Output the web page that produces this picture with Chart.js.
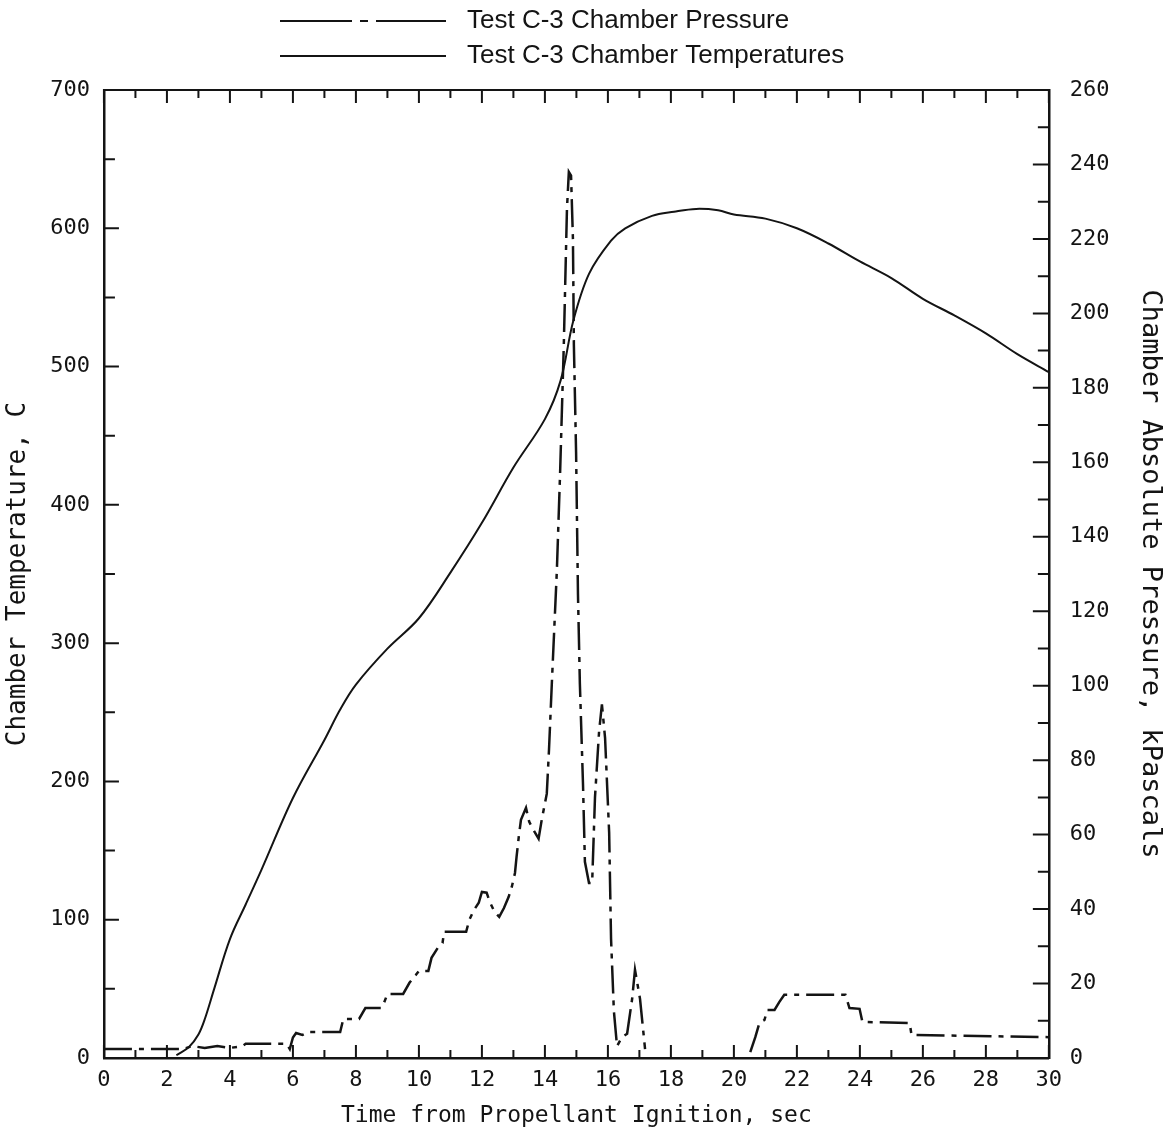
<!DOCTYPE html>
<html>
<head>
<meta charset="utf-8">
<script src="https://cdn.jsdelivr.net/npm/chart.js@4.4.1/dist/chart.umd.min.js"></script>
<style>
  html, body { margin: 0; padding: 0; background: #fff; }
  #wrap { width: 1170px; height: 1133px; }
</style>
</head>
<body>
<div id="wrap"><canvas id="chartCanvas" width="1170" height="1133"></canvas></div>
<script>
// Test C-3 chamber temperature (left axis) and chamber pressure (right axis)
const tempTime = [2.3, 2.7, 3.0, 3.2, 3.5, 4.0, 4.5, 5.0, 6.0, 7.0, 7.5, 8.0, 9.0, 10.0, 11.0, 12.0, 13.0,
  14.0, 14.5, 14.9, 15.4, 16.1, 16.55, 17.4, 18.1, 18.8, 19.5, 20.0, 21.0, 22.0, 23.0, 24.0, 25.0,
  26.0, 27.0, 28.0, 29.0, 30.0];
const tempValues = [2, 8, 17, 28, 50, 86, 111, 136, 188, 230, 252, 270, 296, 318, 351, 387, 427,
  462, 490, 533, 567, 591, 600, 609, 612, 614, 613, 610, 607, 600, 589, 576, 564,
  549, 537, 524, 509, 496];

const pressTime = [0, 0.9, 2.5, 2.8, 3.2, 3.6, 4.0, 4.4, 4.5, 5.8, 5.9, 6.0, 6.1, 6.3, 6.5, 7.5, 7.6,
  8.1, 8.3, 8.8, 8.9, 9.0, 9.5, 9.7, 9.9, 10.0, 10.3, 10.4, 10.6, 10.75, 10.8, 11.5, 11.6, 11.75,
  11.9, 12.0, 12.15, 12.25, 12.4, 12.55, 12.7, 12.85, 12.95, 13.05, 13.1, 13.17, 13.24, 13.4, 13.5,
  13.6, 13.8, 13.9, 14.06, 14.13, 14.22, 14.38, 14.48, 14.6, 14.7, 14.76, 14.83, 14.89, 14.92,
  14.99, 15.05, 15.11, 15.21, 15.27, 15.4, 15.5, 15.59, 15.72, 15.81, 15.91, 16.04, 16.1, 16.19,
  16.29, 16.45, 16.61, 16.77, 16.86, 17.02, 17.18, 18.8, 20.52, 20.68, 20.81, 20.97, 21.06, 21.29,
  21.44, 21.6, 23.54, 23.67, 23.99, 24.08, 25.58, 25.64, 30.0];
const pressValues = [2.4, 2.4, 2.4, 3.2, 2.7, 3.2, 2.7, 3.2, 3.8, 3.8, 2.4, 5.5, 6.7, 6.2, 7, 7, 10.5,
  10.5, 13.4, 13.4, 15, 17.2, 17.2, 20.2, 22.3, 23.4, 23.4, 26.9, 29.6, 30.9, 33.9, 33.9, 37.1, 39.8,
  41.7, 44.6, 44.4, 41.9, 39.3, 37.9, 40.3, 43.3, 46, 49.7, 54, 59.4, 64, 67.2, 63.5,
  61.8, 58.9, 64, 71, 82.8, 100.6, 131, 156.5, 191.5, 228, 238, 237, 220, 191.5,
  162.7, 124.5, 100.6, 73.4, 52.7, 47, 47, 70, 87.7, 95, 86, 60.5, 32, 12.6,
  3.2, 5.6, 6.5, 15.9, 23.7, 15.9, 2.4, null, 1.6, 5.6, 9.4, 10.2, 12.9, 12.9,
  15, 17, 17, 13.4, 13.2, 9.7, 9.4, 6.2, 5.6];

const xTickValues = [0, 2, 4, 6, 8, 10, 12, 14, 16, 18, 20, 22, 24, 26, 28, 30];
const tempTickValues = [0, 100, 200, 300, 400, 500, 600, 700];
const pressTickValues = [0, 20, 40, 60, 80, 100, 120, 140, 160, 180, 200, 220, 240, 260];

const ink = '#141414';
const monoFont = 'DejaVu Sans Mono';

// inward tick marks + top frame line
const tickMarks = {
  id: 'tickMarks',
  afterDraw(chart) {
    const { ctx, chartArea: a, scales } = chart;
    ctx.save();
    ctx.strokeStyle = ink;
    ctx.lineWidth = 2;
    ctx.beginPath();
    ctx.moveTo(a.left - 1, a.top);
    ctx.lineTo(a.right + 1, a.top);
    for (let v = 0; v <= 30; v += 1) {
      const x = scales.x.getPixelForValue(v);
      const len = v % 2 === 0 ? 13 : 8;
      ctx.moveTo(x, a.bottom); ctx.lineTo(x, a.bottom - len);
      ctx.moveTo(x, a.top); ctx.lineTo(x, a.top + len);
    }
    for (let v = 0; v <= 700; v += 50) {
      const y = scales.y.getPixelForValue(v);
      const len = v % 100 === 0 ? 15 : 11;
      ctx.moveTo(a.left, y); ctx.lineTo(a.left + len, y);
    }
    for (let v = 0; v <= 260; v += 10) {
      const y = scales.y1.getPixelForValue(v);
      const len = v % 20 === 0 ? 16 : 11;
      ctx.moveTo(a.right, y); ctx.lineTo(a.right - len, y);
    }
    ctx.stroke();
    ctx.restore();
  }
};

// two-row legend above the plot
const legendRows = {
  id: 'legendRows',
  afterDraw(chart) {
    const { ctx } = chart;
    const rows = [
      { ds: chart.data.datasets[0], y: 21, dash: [72, 8, 8, 8] },
      { ds: chart.data.datasets[1], y: 56, dash: [] }
    ];
    ctx.save();
    ctx.font = '26px "Liberation Sans", Arial, sans-serif';
    ctx.textBaseline = 'middle';
    ctx.fillStyle = ink;
    rows.forEach(r => {
      ctx.strokeStyle = ink;
      ctx.lineWidth = 2;
      ctx.setLineDash(r.dash);
      ctx.beginPath();
      ctx.moveTo(280, r.y);
      ctx.lineTo(446, r.y);
      ctx.stroke();
      ctx.setLineDash([]);
      ctx.fillText(r.ds.label, 467, r.y);
    });
    ctx.restore();
  }
};

const ctx = document.getElementById('chartCanvas').getContext('2d');
const chart = new Chart(ctx, {
  type: 'line',
  data: {
    datasets: [
      {
        label: 'Test C-3 Chamber Pressure',
        data: pressTime.map((t, i) => ({ x: t, y: pressValues[i] })),
        yAxisID: 'y1',
        borderColor: ink,
        borderWidth: 2.5,
        borderDash: [28, 7, 5, 7],
        pointRadius: 0,
        tension: 0,
        spanGaps: false,
        fill: false
      },
      {
        label: 'Test C-3 Chamber Temperatures',
        data: tempTime.map((t, i) => ({ x: t, y: tempValues[i] })),
        yAxisID: 'y',
        borderColor: ink,
        borderWidth: 2,
        pointRadius: 0,
        tension: 0.35,
        fill: false
      }
    ]
  },
  options: {
    responsive: false,
    animation: false,
    layout: { padding: { top: 90, left: 0, right: 0, bottom: 0 } },
    plugins: {
      legend: { display: false },
      tooltip: { enabled: false }
    },
    scales: {
      x: {
        type: 'linear',
        min: 0, max: 30,
        afterBuildTicks: s => { s.ticks = xTickValues.map(v => ({ value: v })); },
        grid: { display: false, drawTicks: false },
        border: { display: true, color: ink, width: 2.5 },
        ticks: { color: ink, padding: 9, maxRotation: 0, font: { family: monoFont, size: 22 } },
        title: {
          display: true,
          text: 'Time from Propellant Ignition, sec',
          color: ink,
          font: { family: monoFont, size: 23 },
          padding: { top: 0, bottom: 3 }
        }
      },
      y: {
        position: 'left',
        min: 0, max: 700,
        afterBuildTicks: s => { s.ticks = tempTickValues.map(v => ({ value: v })); },
        grid: { display: false, drawTicks: false },
        border: { display: true, color: ink, width: 2.5 },
        ticks: { color: ink, padding: 14, font: { family: monoFont, size: 22 } },
        title: {
          display: true,
          text: 'Chamber Temperature, C',
          color: ink,
          font: { family: monoFont, size: 26 },
          padding: { top: 3, bottom: 2 }
        }
      },
      y1: {
        position: 'right',
        min: 0, max: 260,
        afterBuildTicks: s => { s.ticks = pressTickValues.map(v => ({ value: v })); },
        grid: { display: false, drawTicks: false },
        border: { display: true, color: ink, width: 2.5 },
        ticks: { color: ink, padding: 21, font: { family: monoFont, size: 22 } },
        title: {
          display: true,
          text: 'Chamber Absolute Pressure, kPascals',
          color: ink,
          font: { family: monoFont, size: 27 },
          padding: { top: 4, bottom: 3 }
        }
      }
    }
  },
  plugins: [tickMarks, legendRows]
});
</script>
</body>
</html>
